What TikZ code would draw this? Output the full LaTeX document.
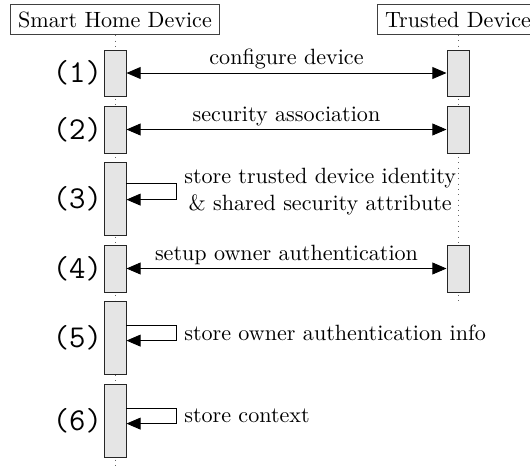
\documentclass[tikz,border=0pt]{standalone}
\usetikzlibrary{positioning}
\usetikzlibrary{arrows.meta}
\tikzset{
    headbox/.style = {rectangle, draw=black!75, inner sep=3.33pt},
    actbox/.style = {rectangle, draw=black!85, fill=black!10, minimum width=10pt, inner sep=0pt},
    numlabel/.style = {font=\ttfamily\Large, inner sep=0.5pt},
    lifeline/.style = {dotted, draw=black!60},
    edgem/.style = {{Triangle[length=6.4pt,width=5.4pt]}-{Triangle[length=6.4pt,width=5.4pt]}}, % message
    edges/.style = {-{Triangle[length=6.4pt,width=5.4pt]}}, % self call
    lbl/.style = {midway, above, inner sep=1.5pt}
}

\begin{document}
\begin{tikzpicture}[x=0.4525pt, y=0.4525pt]
  \useasboundingbox (0,0) rectangle (530,-466);

  % instances and lifelines
  \node[headbox] (shd) at (115,-19.5) {Smart Home Device};
  \node[headbox] (td) at (458,-19.5) {Trusted Device};
  \coordinate (shdend) at (115,-466);
  \coordinate (tdend) at (458,-304);
  \draw[lifeline] (shd) -- (shdend);
  \draw[lifeline] (td) -- (tdend);

  % activations
  \node[actbox, minimum height=20.8pt] (s1) at (115,-73) {};
  \node[actbox, minimum height=20.8pt] (t1) at (458,-73) {};
  \node[actbox, minimum height=21.3pt] (s2) at (115,-129.5) {};
  \node[actbox, minimum height=21.3pt] (t2) at (458,-129.5) {};
  \node[actbox, minimum height=33pt] (s3) at (115,-198.5) {};
  \node[actbox, minimum height=21.3pt] (s4) at (115,-268.5) {};
  \node[actbox, minimum height=21.3pt] (t4) at (458,-268.5) {};
  \node[actbox, minimum height=33pt] (s5) at (115,-337.5) {};
  \node[actbox, minimum height=33pt] (s6) at (115,-420.5) {};

  \node[numlabel, left=0pt of s1] {(1)};
  \node[numlabel, left=0pt of s2] {(2)};
  \node[numlabel, left=0pt of s3] {(3)};
  \node[numlabel, left=0pt of s4] {(4)};
  \node[numlabel, left=0pt of s5] {(5)};
  \node[numlabel, left=0pt of s6] {(6)};

  % messages
  \draw[edgem] (s1) -- (t1) node[lbl] {configure device};
  \draw[edgem] (s2) -- (t2) node[lbl] {security association};
  \draw[edgem] (s4) -- (t4) node[lbl] {setup owner authentication};

  \draw[edges] ([yshift=-10pt]s3.north east) -- ++(50,0) |- node[pos=0.25, right, align=center] {store trusted device identity\\\& shared security attribute} ([yshift=-17.2pt]s3.north east);
  \draw[edges] ([yshift=-11.3pt]s5.north east) -- ++(50,0) |- node[pos=0.25, right] {store owner authentication info} ([yshift=-18.1pt]s5.north east);
  \draw[edges] ([yshift=-11.3pt]s6.north east) -- ++(50,0) |- node[pos=0.25, right] {store context} ([yshift=-18.1pt]s6.north east);
\end{tikzpicture}
\end{document}
